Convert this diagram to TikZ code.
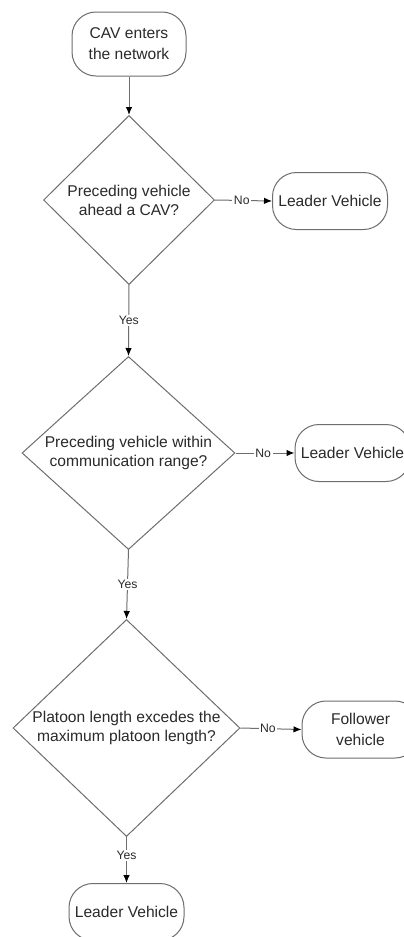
\documentclass[tikz,border=0pt]{standalone}
\usepackage{fontspec}
\setmainfont{Liberation Sans}
\usetikzlibrary{shapes.geometric,arrows.meta}
\definecolor{linec}{HTML}{6E6E6E}
\definecolor{textc}{HTML}{2A2A2A}
\begin{document}
\begin{tikzpicture}[x=1pt,y=-1pt,
  every node/.style={text=textc},
  term/.style={draw=linec, line width=1pt, fill=white, rounded corners=24pt,
    inner sep=0pt, align=center, font=\fontsize{15.6}{21}\selectfont},
  dia/.style={draw=linec, line width=1pt, fill=white, shape=diamond, inner sep=0pt},
  diatext/.style={align=center, font=\fontsize{15.6}{19}\selectfont},
  conn/.style={draw=linec, line width=1pt, -{Latex[length=8pt,width=6.5pt,color=black]}},
  lab/.style={fill=white, inner sep=1.5pt, font=\fontsize{12.2}{14}\selectfont}
]
\clip (0,0) rectangle (404,937);
\fill[white] (0,0) rectangle (404,937);

\node[term, minimum width=114pt, minimum height=64pt] (start) at (129,44) {CAV enters\\the network};

\node[dia, minimum width=171pt, minimum height=169pt,
  label={[diatext]center:Preceding vehicle\\ahead a CAV?}] (d1) at (129,200) {};
\node[term, minimum width=115pt, minimum height=57pt] (l1) at (330,201) {Leader Vehicle};

\node[dia, minimum width=213pt, minimum height=193pt,
  label={[diatext]center:Preceding vehicle within\\communication range?}] (d2) at (128.5,453) {};
\node[term, minimum width=115pt, minimum height=57pt] (l2) at (352.5,453) {Leader Vehicle};

\node[dia, minimum width=227pt, minimum height=217pt,
  label={[diatext]center:Platoon length excedes the\\maximum platoon length?}] (d3) at (126.5,728) {};
\node[term, minimum width=117pt, minimum height=57pt] (fol) at (360.5,729.5) {Follower\\vehicle};

\node[term, minimum width=115pt, minimum height=57pt] (l3) at (126.5,912) {Leader Vehicle};

\draw[conn] (start.south) -- (d1.north);
\draw[conn] (d1.east) -- node[lab, pos=0.47] {No} (l1.west);
\draw[conn] (d1.south) -- node[lab] {Yes} (d2.north);
\draw[conn] (d2.east) -- node[lab, pos=0.47] {No} (l2.west);
\draw[conn] (d2.south) -- node[lab] {Yes} (d3.north);
\draw[conn] (d3.east) -- node[lab, pos=0.45] {No} (fol.west);
\draw[conn] (d3.south) -- node[lab, pos=0.4] {Yes} (l3.north);
\end{tikzpicture}
\end{document}
